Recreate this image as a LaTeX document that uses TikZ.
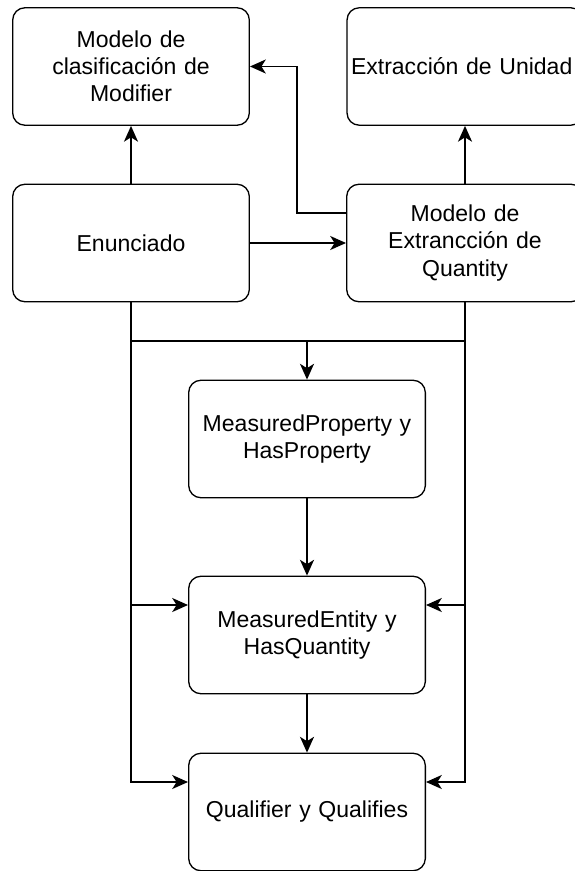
\documentclass[tikz,border=0pt]{standalone}
\usepackage{fontspec}
\setmainfont{Liberation Sans}
\usetikzlibrary{arrows.meta}
\tikzset{
  caja/.style={draw, rounded corners=7pt, minimum width=4.72cm, minimum height=2.35cm,
    text width=4.5cm, align=center, line width=0.75pt,
    font=\fontsize{13.1}{15.4}\selectfont},
  flecha/.style={-{Stealth[length=9pt,width=8pt,inset=2.5pt]}, line width=0.75pt},
  linea/.style={line width=0.75pt}
}
\begin{document}
\begin{tikzpicture}[x=0.02cm,y=-0.02cm]
	\useasboundingbox (0,0) rectangle (574,871);
	% cajas
	\node[caja] (modifier) at (131,66.5) {Modelo de\\clasificación de\\Modifier};
	\node[caja, inner sep=0pt, text width=4.56cm, align=left] (unidad) at (465,66.5) {Extracción de Unidad};
	\node[caja] (enunciado) at (131,243) {Enunciado};
	\node[caja] (quantity) at (465,243) {Modelo de\\Extrancción de\\Quantity};
	\node[caja] (property) at (307,439) {MeasuredProperty y\\HasProperty};
	\node[caja] (entity) at (307,635) {MeasuredEntity y\\HasQuantity};
	\node[caja] (qualifier) at (307,812) {Qualifier y Qualifies};
	\coordinate (codo) at (297,213);
	\coordinate (bus) at (0,341);
	% conexiones
	\draw[flecha] (enunciado) -- (modifier);
	\draw[flecha] (quantity) -- (unidad);
	\draw[flecha] (enunciado) -- (quantity);
	\draw[flecha] (quantity.west |- codo) -- (codo) |- (modifier.east);
	\draw[linea] (enunciado.south |- bus) -- (quantity.south |- bus);
	\draw[flecha] (property.north |- bus) -- (property);
	\draw[flecha] (property) -- (entity);
	\draw[flecha] (entity) -- (qualifier);
	\draw[flecha] (enunciado.south) |- ([yshift=0.6cm]qualifier.west);
	\draw[flecha] ([yshift=0.6cm]entity.west -| enunciado.south) -- ([yshift=0.6cm]entity.west);
	\draw[flecha] (quantity.south) |- ([yshift=0.6cm]qualifier.east);
	\draw[flecha] ([yshift=0.6cm]entity.east -| quantity.south) -- ([yshift=0.6cm]entity.east);
\end{tikzpicture}
\end{document}
